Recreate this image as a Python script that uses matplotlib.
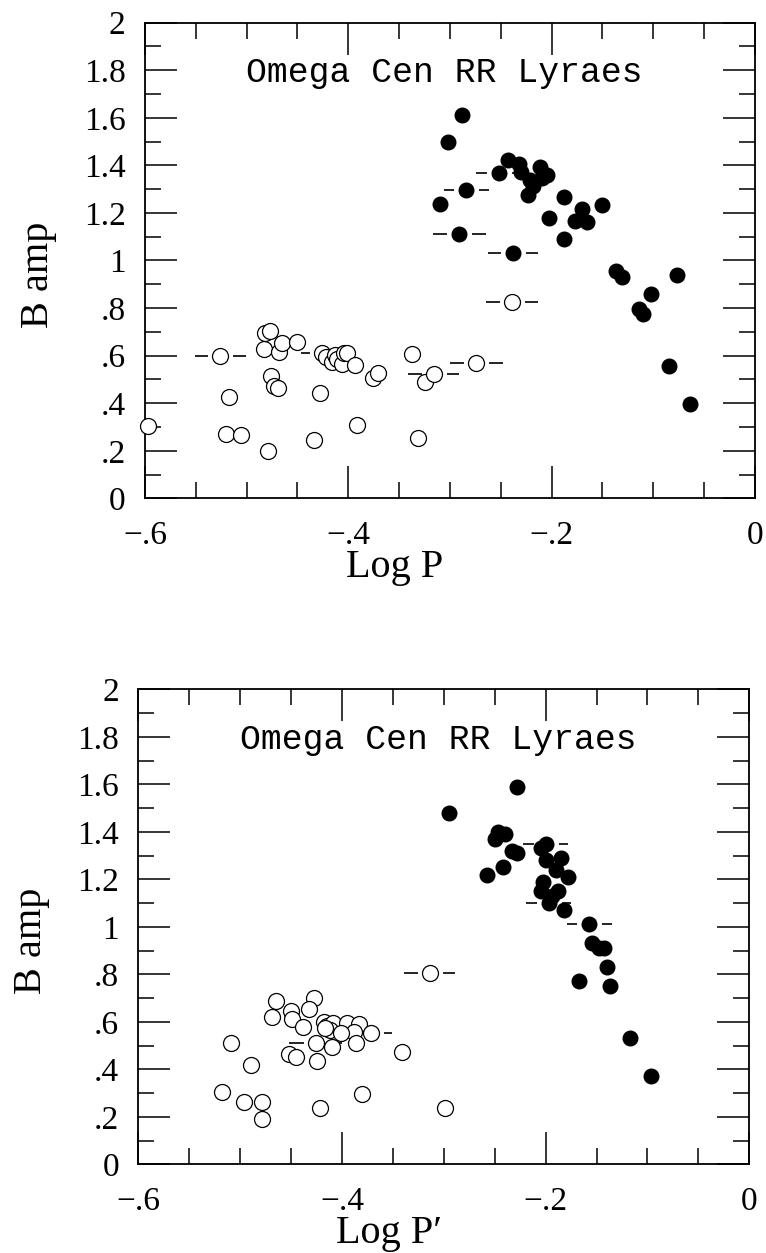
"""
Omega Cen RR Lyrae stars: B amplitude against Log P (top) and Log P' (bottom).
Two stacked panels, open circles = c-type, filled = ab-type.
"""
import matplotlib.pyplot as plt
from matplotlib.ticker import MultipleLocator, FixedLocator

# ---- top panel (Log P) ----
top_open_x = [-0.597, -0.526, -0.517, -0.520, -0.506, -0.483, -0.482, -0.477,
              -0.479, -0.476, -0.473, -0.469, -0.468, -0.465, -0.450, -0.428,
              -0.434, -0.426, -0.422, -0.416, -0.413, -0.411, -0.406, -0.404,
              -0.401, -0.393, -0.391, -0.376, -0.371, -0.337, -0.331, -0.325,
              -0.316, -0.274, -0.239]
top_open_y = [0.304, 0.598, 0.425, 0.270, 0.265, 0.627, 0.696, 0.705,
              0.200, 0.514, 0.472, 0.463, 0.617, 0.654, 0.659, 0.444,
              0.245, 0.610, 0.593, 0.574, 0.603, 0.585, 0.565, 0.610,
              0.612, 0.561, 0.307, 0.507, 0.526, 0.606, 0.255, 0.488,
              0.523, 0.568, 0.824]

top_filled_x = [-0.288, -0.302, -0.310, -0.284, -0.291, -0.238, -0.252, -0.243,
                -0.232, -0.230, -0.221, -0.218, -0.223, -0.211, -0.205, -0.209,
                -0.203, -0.188, -0.188, -0.170, -0.177, -0.165, -0.150, -0.137,
                -0.131, -0.102, -0.077, -0.114, -0.110, -0.085, -0.064]
top_filled_y = [1.612, 1.500, 1.238, 1.297, 1.111, 1.033, 1.367, 1.423,
                1.406, 1.373, 1.338, 1.313, 1.275, 1.394, 1.360, 1.346,
                1.180, 1.266, 1.089, 1.215, 1.166, 1.161, 1.233, 0.957,
                0.932, 0.859, 0.939, 0.795, 0.775, 0.558, 0.397]

# stars drawn with a horizontal dash either side
top_dash_x = [-0.526, -0.426, -0.316, -0.274, -0.239, -0.284, -0.291, -0.238, -0.252]
top_dash_y = [0.598, 0.610, 0.523, 0.568, 0.824, 1.297, 1.111, 1.033, 1.367]
top_dash_err = [0.025, 0.021, 0.025, 0.026, 0.026, 0.022, 0.026, 0.025, 0.022]

# ---- bottom panel (Log P') ----
bot_open_x = [-0.314, -0.465, -0.428, -0.469, -0.450, -0.449, -0.433, -0.438,
              -0.418, -0.415, -0.409, -0.412, -0.417, -0.395, -0.383, -0.388,
              -0.401, -0.372, -0.426, -0.410, -0.386, -0.452, -0.445, -0.425,
              -0.509, -0.489, -0.341, -0.518, -0.496, -0.479, -0.479, -0.422,
              -0.380, -0.299]
bot_open_y = [0.807, 0.689, 0.699, 0.622, 0.647, 0.611, 0.653, 0.579,
              0.600, 0.582, 0.594, 0.565, 0.573, 0.594, 0.591, 0.558,
              0.552, 0.552, 0.512, 0.495, 0.509, 0.463, 0.453, 0.436,
              0.509, 0.418, 0.474, 0.306, 0.261, 0.264, 0.192, 0.236,
              0.296, 0.236]

bot_filled_x = [-0.295, -0.228, -0.258, -0.250, -0.247, -0.240, -0.242, -0.233,
                -0.228, -0.205, -0.200, -0.203, -0.205, -0.200, -0.197, -0.194,
                -0.190, -0.185, -0.188, -0.182, -0.178, -0.157, -0.155, -0.148,
                -0.143, -0.140, -0.137, -0.167, -0.117, -0.097]
bot_filled_y = [1.48, 1.59, 1.22, 1.37, 1.40, 1.39, 1.25, 1.32,
                1.31, 1.33, 1.35, 1.19, 1.15, 1.28, 1.10, 1.13,
                1.24, 1.29, 1.15, 1.07, 1.21, 1.01, 0.93, 0.91,
                0.91, 0.83, 0.75, 0.77, 0.53, 0.37]

bot_dash_x = [-0.314, -0.372, -0.426, -0.200, -0.197, -0.157]
bot_dash_y = [0.807, 0.552, 0.512, 1.35, 1.10, 1.01]
bot_dash_err = [0.025, 0.021, 0.026, 0.022, 0.022, 0.022]

Y_LABELS = ["0", ".2", ".4", ".6", ".8", "1", "1.2", "1.4", "1.6", "1.8", "2"]
X_LABELS = ["\u2212.6", "\u2212.4", "\u2212.2", "0"]

SERIF = ["Liberation Serif", "DejaVu Serif"]
MONO = ["Liberation Mono", "DejaVu Sans Mono"]


def draw_panel(ax, open_x, open_y, filled_x, filled_y, dash_x, dash_y, dash_err, xlabel):
    ax.set_xlim(-0.6, 0)
    ax.set_ylim(0, 2)

    # dashes first, then a white halo so the dash stops short of the symbol
    ax.errorbar(dash_x, dash_y, xerr=dash_err, fmt="none", ecolor="black",
                elinewidth=1.2, capsize=0, zorder=1)
    ax.plot(dash_x, dash_y, "o", ms=17, mfc="white", mec="white", zorder=2)

    ax.plot(open_x, open_y, "o", ms=11.5, mfc="white", mec="black", mew=0.9,
            zorder=3, clip_on=False)
    ax.plot(filled_x, filled_y, "o", ms=10.5, mfc="black", mec="black", zorder=4)

    ax.xaxis.set_major_locator(FixedLocator([-0.6, -0.4, -0.2, 0]))
    ax.xaxis.set_minor_locator(MultipleLocator(0.05))
    ax.yaxis.set_major_locator(FixedLocator([i * 0.2 for i in range(11)]))
    ax.yaxis.set_minor_locator(MultipleLocator(0.1))
    ax.set_xticklabels(X_LABELS, family=SERIF, fontsize=24)
    ax.set_yticklabels(Y_LABELS, family=SERIF, fontsize=24)

    ax.tick_params(which="both", direction="in", top=True, right=True, width=1.1)
    ax.tick_params(which="major", length=23)
    ax.tick_params(which="minor", length=11.5)
    ax.tick_params(axis="x", pad=16)
    ax.tick_params(axis="y", pad=14)
    for sp in ax.spines.values():
        sp.set_linewidth(1.3)

    ax.text(0.4905, 0.875, "Omega Cen RR Lyraes", family=MONO, fontsize=25,
            ha="center", va="baseline", transform=ax.transAxes)

    ax.set_xlabel(xlabel, family=SERIF, fontsize=29)
    ax.xaxis.label.set_va("center")
    ax.xaxis.set_label_coords(0.41, -0.145)
    ax.set_ylabel("B amp", family=SERIF, fontsize=29)
    ax.yaxis.label.set_va("center")
    ax.yaxis.set_label_coords(-0.175, 0.47)


fig = plt.figure(figsize=(7.66, 12.53), dpi=100)
ax1 = fig.add_axes([0.1893, 0.6023, 0.7963, 0.3796])
ax2 = fig.add_axes([0.1808, 0.0708, 0.7974, 0.3791])

draw_panel(ax1, top_open_x, top_open_y, top_filled_x, top_filled_y,
           top_dash_x, top_dash_y, top_dash_err, "Log P")
draw_panel(ax2, bot_open_x, bot_open_y, bot_filled_x, bot_filled_y,
           bot_dash_x, bot_dash_y, bot_dash_err, "Log P\u2032")

fig.savefig("out.png", dpi=100)
